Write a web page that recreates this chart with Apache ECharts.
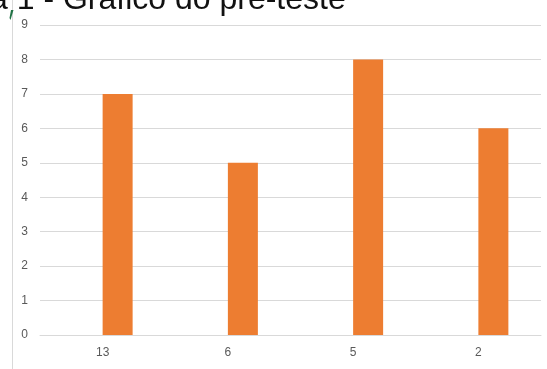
<!DOCTYPE html>
<html>
<head>
<meta charset="utf-8">
<script src="https://cdn.jsdelivr.net/npm/echarts@6/dist/echarts.min.js"></script>
<style>html,body{margin:0;padding:0;background:#fff;}#c{width:547px;height:369px;}</style>
</head>
<body>
<div id="c"></div>
<script>
const categorias = ['13', '6', '5', '2'];
const serieOculta = [null, null, null, null];
const valores = [7, 5, 8, 6];
const titulo = 'a 1 - Gráfico do pré-teste';

const chart = echarts.init(document.getElementById('c'), null, {renderer: 'canvas'});
chart.setOption({
  animation: false,
  backgroundColor: '#fff',
  grid: {left: 40, right: 6, top: 25, bottom: 34, containLabel: false},
  graphic: [
    {type: 'text', left: -10, top: -16, style: {text: titulo, font: '32px "Liberation Sans", Arial, sans-serif', fill: '#111'}},
    {type: 'line', shape: {x1: 12.5, y1: 0, x2: 12.5, y2: 369}, style: {stroke: '#d9d9d9', lineWidth: 1}},
    {type: 'polygon', shape: {points: [[11, 10], [13.5, 10], [10.5, 20], [9.5, 18]]}, style: {fill: '#217346'}}
  ],
  xAxis: {
    type: 'category',
    data: categorias,
    axisLine: {lineStyle: {color: '#d9d9d9'}},
    axisTick: {show: false},
    axisLabel: {color: '#595959', fontSize: 12, fontFamily: '"Liberation Sans Narrow", "Liberation Sans", Arial, sans-serif', margin: 12}
  },
  yAxis: {
    type: 'value',
    min: 0, max: 9, interval: 1,
    axisLine: {show: false},
    axisTick: {show: false},
    splitLine: {lineStyle: {color: '#d9d9d9'}},
    axisLabel: {color: '#595959', fontSize: 12, fontFamily: '"Liberation Sans Narrow", "Liberation Sans", Arial, sans-serif', margin: 12}
  },
  series: [
    {type: 'bar', data: serieOculta, barWidth: 30, barGap: '0%', itemStyle: {color: 'rgba(0,0,0,0)'}},
    {type: 'bar', data: valores, barWidth: 30, barGap: '0%', itemStyle: {color: '#ED7D31'}}
  ]
});
</script>
</body>
</html>
